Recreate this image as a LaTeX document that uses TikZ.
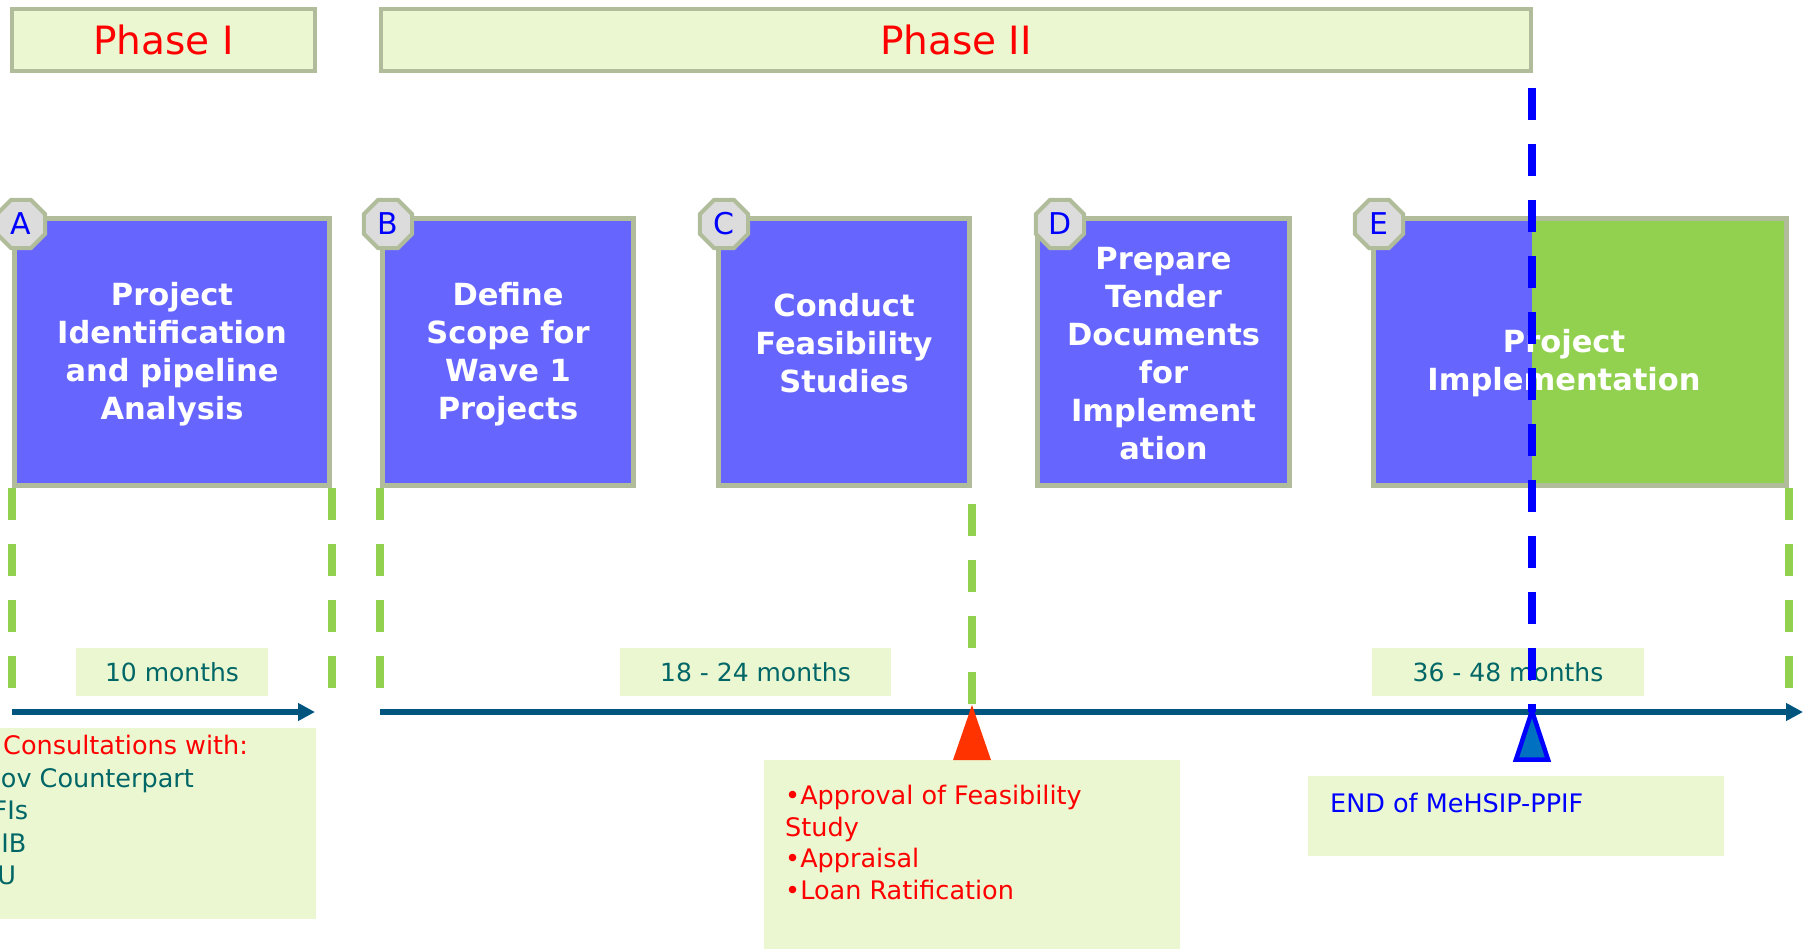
\documentclass[tikz,border=0pt]{standalone}
\usepackage{fontspec}
\setmainfont{DejaVu Sans}
\usetikzlibrary{arrows.meta, positioning, shapes.geometric}
\definecolor{pale_green}{RGB}{235,247,209}
\definecolor{sage_gray}{RGB}{176,188,154}
\definecolor{step_blue}{RGB}{102,102,255}
\definecolor{impl_green}{RGB}{146,208,80}
\definecolor{badge_gray}{RGB}{220,220,220}
\definecolor{axis_blue}{RGB}{0,85,127}
\definecolor{dark_teal}{RGB}{0,102,102}
\definecolor{flag_red}{RGB}{255,51,0}
\definecolor{flag_blue}{RGB}{0,112,192}

\begin{document}
\begin{tikzpicture}[x=1pt,y=-1pt,
		phase/.style={draw=sage_gray,fill=pale_green,line width=4pt,minimum height=62pt,inner sep=0pt,text=red,font=\fontsize{39}{46}\selectfont},
		stepbox/.style={draw=sage_gray,fill=step_blue,line width=5pt,minimum height=267pt,inner sep=0pt},
		steptext/.style={text=white,align=center,inner sep=0pt,font=\fontsize{30.5}{38}\selectfont\bfseries},
		badge/.style={regular polygon,regular polygon sides=8,minimum size=52pt,inner sep=0pt,draw=sage_gray,fill=badge_gray,line width=4pt,text=blue,font=\fontsize{30}{36}\selectfont},
		note/.style={fill=pale_green,inner sep=0pt},
		months/.style={note,minimum height=48pt,text=dark_teal,font=\fontsize{25}{30}\selectfont},
		item/.style={anchor=base west,inner sep=0pt,font=\fontsize{25.5}{30}\selectfont},
		tick/.style={draw=impl_green,line width=7.5pt,dash pattern=on 32pt off 24pt},
		axis/.style={draw=axis_blue,line width=6pt,-{Triangle[length=17pt,width=17pt]}},
		end_line/.style={draw=blue,line width=8pt,dash pattern=on 32pt off 24pt}]
	\useasboundingbox (0,0) rectangle (1810,949);
	\clip (0,0) rectangle (1810,949);

	% phases
	\node[phase,minimum width=303pt] (phaseI) at (163.5,40) {Phase I};
	\node[phase,minimum width=1150pt] (phaseII) at (956,40) {Phase II};

	% steps A..E
	\foreach \n/\x/\w in {A/172/315pt,B/508/251pt,C/844/251pt,D/1163.5/252pt,E/1580/413pt}
		\node[stepbox,minimum width=\w] (box\n) at (\x,352) {};
	\coordinate (endMark) at (1532,706);
	\fill[impl_green] (boxE.north -| endMark) rectangle (boxE.south east);
	\draw[sage_gray,line width=5pt] ([shift={(2.5pt,-2.5pt)}]boxE.north west) rectangle ([shift={(-2.5pt,2.5pt)}]boxE.south east);
	\foreach \n/\x/\y/\txt in {A/172/354/{Project\\Identification\\and pipeline\\Analysis},
			B/508/354/{Define\\Scope for\\Wave 1\\Projects},
			C/844/343/{Conduct\\Feasibility\\Studies},
			D/1163.5/354/{Prepare\\Tender\\Documents\\for\\Implement\\ation},
			E/1564/363/{Project\\Implementation}}
		\node[steptext] (text\n) at (\x,\y) {\txt};
	\foreach \n/\x in {A/21,B/388,C/724,D/1060,E/1379}
		\node[badge] (badge\n) at (\x,224) {\n};

	% durations
	\coordinate (tickEnd) at (0,688);
	\coordinate (axisLine) at (0,712);
	\foreach \a in {boxA.south west,boxA.south east,boxB.south west,boxE.south east}
		\draw[tick] (\a) -- (\a |- tickEnd);
	\draw[tick,dash phase=40pt] (boxC.south east) -- (boxC.south east |- axisLine);
	\node[months,minimum width=192pt] (monthsA) at (172,672) {10 months};
	\node[months,minimum width=271pt] (monthsC) at (755.5,672) {18 - 24 months};
	\node[months,minimum width=272pt] (monthsE) at (1508,672) {36 - 48 months};
	\coordinate (axisAEnd) at (315,712);
	\coordinate (axisEnd) at (1803,712);
	\draw[axis] (boxA.south west |- axisLine) -- (axisAEnd);
	\draw[axis] (boxB.south west |- axisLine) -- (axisEnd);

	% milestones
	\node[note,minimum width=356pt,minimum height=191pt] (consult) at (138,823.5) {};
	\node[note,minimum width=416pt,minimum height=200pt] (approval) at (972,860) {};
	\node[note,minimum width=416pt,minimum height=80pt] (endNote) at (1516,816) {};
	\node[item,text=red] (consultHead) at (-12,754) {•Consultations with:};
	\foreach \i/\x/\y/\t in {1/-19/787/Gov Counterpart,2/-15/819/IFIs,3/-15/852/EIB,4/-19/884/EU}
		\node[item,text=dark_teal] (consult\i) at (\x,\y) {\t};
	\foreach \i/\y/\t in {1/804/•Approval of Feasibility,2/836/Study,3/867/•Appraisal,4/899/•Loan Ratification}
		\node[item,text=red] (approval\i) at (785,\y) {\t};
	\node[item,text=blue] (endText) at (1330,812) {END of MeHSIP-PPIF};

	\coordinate (feasMark) at (972,705);
	\fill[flag_red] (feasMark) -- ++(19,55) -- ++(-38,0) -- cycle;
	\coordinate (endTop) at (1532,88);
	\draw[end_line] (endTop) -- (endMark |- axisLine);
	\filldraw[fill=flag_blue,draw=blue,line width=4.5pt] ([yshift=-5pt]endMark) -- ++(16,48.5) -- ++(-32,0) -- cycle;
\end{tikzpicture}
\end{document}
